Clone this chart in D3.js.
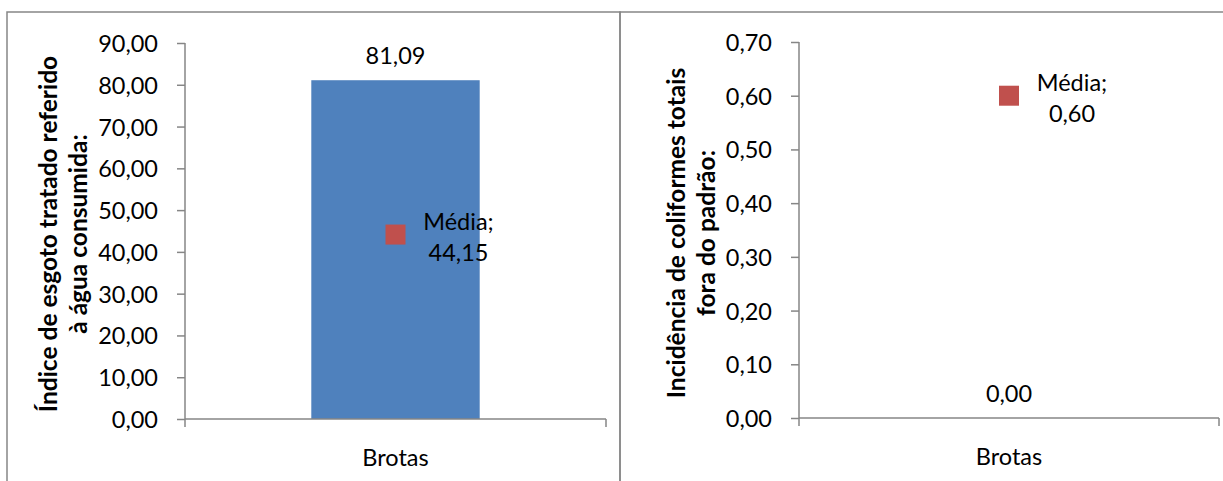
<!DOCTYPE html>
<html>
<head>
<meta charset="utf-8">
<script src="https://cdn.jsdelivr.net/npm/d3@7"></script>
<style>
  html, body { margin: 0; padding: 0; background: #fff; }
  svg { display: block; }
  text { font-family: Lato, "Open Sans", sans-serif; fill: #000; }
</style>
</head>
<body>
<svg id="chart" width="1223" height="481"></svg>
<script>
// Dados
const categories = ["Brotas"];
const esgotoValues = [81.09];
const esgotoMedia = [44.15];
const esgotoTicks = [0, 10, 20, 30, 40, 50, 60, 70, 80, 90];
const esgotoTitle = ["Índice de esgoto tratado referido", "à água consumida:"];

const coliformesValues = [0.00];
const coliformesMedia = [0.60];
const coliformesTicks = [0, 0.1, 0.2, 0.3, 0.4, 0.5, 0.6, 0.7];
const coliformesTitle = ["Incidência de coliformes totais", "fora do padrão:"];

const mediaLabel = "Média";

// Formato numérico pt-BR
const ptBR = d3.formatLocale({ decimal: ",", thousands: ".", grouping: [3], currency: ["R$", ""] });
const fmt = ptBR.format(".2f");

const svg = d3.select("#chart");
const GRAY = "#868686";
const BAR = "#4F81BD";
const MARK = "#C0504D";
const FS = 23.5;        // tamanho da fonte
const TITLE_FS = 24.5;  // fonte dos títulos dos eixos

function label(g, x, y, str, opts = {}) {
  return g.append("text")
    .attr("transform", `translate(${x},${y})` + (opts.rotate ? ` rotate(${opts.rotate})` : ""))
    .attr("text-anchor", opts.anchor || "middle")
    .attr("dominant-baseline", "central")
    .style("font-size", (opts.size || FS) + "px")
    .style("font-weight", opts.bold ? "bold" : "normal")
    .text(str);
}

function drawPanel(cfg) {
  const g = svg.append("g");
  // moldura
  g.append("rect")
    .attr("x", cfg.frame[0]).attr("y", cfg.frame[1])
    .attr("width", cfg.frame[2]).attr("height", cfg.frame[3])
    .attr("fill", "none").attr("stroke", GRAY).attr("stroke-width", 1.5);

  const x = d3.scaleBand().domain(categories).range([cfg.left, cfg.right]).paddingInner(0).paddingOuter(0);
  const y = d3.scaleLinear().domain([0, cfg.max]).range([cfg.bottom, cfg.top]);

  // barras
  g.selectAll("rect.bar").data(cfg.values).join("rect")
    .attr("class", "bar")
    .attr("x", (d, i) => x(categories[i]) + x.bandwidth() * 0.3)
    .attr("width", x.bandwidth() * 0.4)
    .attr("y", d => y(d))
    .attr("height", d => y(0) - y(d))
    .attr("fill", BAR);

  // eixo Y
  const yAxis = g.append("g").attr("transform", `translate(${cfg.left},0)`)
    .call(d3.axisLeft(y).tickValues(cfg.ticks).tickSize(8).tickFormat(() => ""));
  yAxis.select(".domain").attr("stroke", GRAY).attr("stroke-width", 1.5).attr("d", `M0,${cfg.top}V${cfg.bottom}`);
  yAxis.selectAll(".tick line").attr("stroke", GRAY).attr("stroke-width", 1.5);
  cfg.ticks.forEach(t => label(g, cfg.left - 27, y(t), fmt(t), { anchor: "end" }));

  // eixo X
  const xAxis = g.append("g").attr("transform", `translate(0,${cfg.bottom})`)
    .call(d3.axisBottom(x).tickSize(0).tickFormat(() => ""));
  xAxis.select(".domain").attr("stroke", GRAY).attr("stroke-width", 1.5)
    .attr("d", `M${cfg.left},0H${cfg.right}`);
  [cfg.left, cfg.right].forEach(px => {
    xAxis.append("line").attr("x1", px).attr("x2", px).attr("y1", 0).attr("y2", 8)
      .attr("stroke", GRAY).attr("stroke-width", 1.5);
  });
  categories.forEach(c => label(g, x(c) + x.bandwidth() / 2, cfg.bottom + 38, c));

  // rótulos das barras
  cfg.values.forEach((v, i) => {
    const cx = x(categories[i]) + x.bandwidth() / 2;
    label(g, cx, y(v) - 25, fmt(v));
  });

  // marcador da média
  const ms = 20;
  cfg.media.forEach((m, i) => {
    const cx = x(categories[i]) + x.bandwidth() / 2;
    g.append("rect")
      .attr("x", cx - ms / 2).attr("y", y(m) - ms / 2)
      .attr("width", ms).attr("height", ms)
      .attr("fill", MARK);
    label(g, cx + 63, y(m) - 14, mediaLabel + ";");
    label(g, cx + 63, y(m) + 17, fmt(m));
  });

  // título do eixo Y
  const midY = (cfg.top + cfg.bottom) / 2 + 3;
  cfg.title.forEach((t, i) => {
    label(g, cfg.titleX + i * 30, midY, t, { rotate: -90, bold: true, size: TITLE_FS });
  });
}

drawPanel({
  frame: [7, 12, 613, 480],
  left: 185, right: 606, top: 43, bottom: 419,
  max: 90, ticks: esgotoTicks, values: esgotoValues, media: esgotoMedia,
  title: esgotoTitle, titleX: 47
});

drawPanel({
  frame: [620, 12, 620, 480],
  left: 799, right: 1219, top: 42, bottom: 418,
  max: 0.7, ticks: coliformesTicks, values: coliformesValues, media: coliformesMedia,
  title: coliformesTitle, titleX: 675
});
</script>
</body>
</html>
